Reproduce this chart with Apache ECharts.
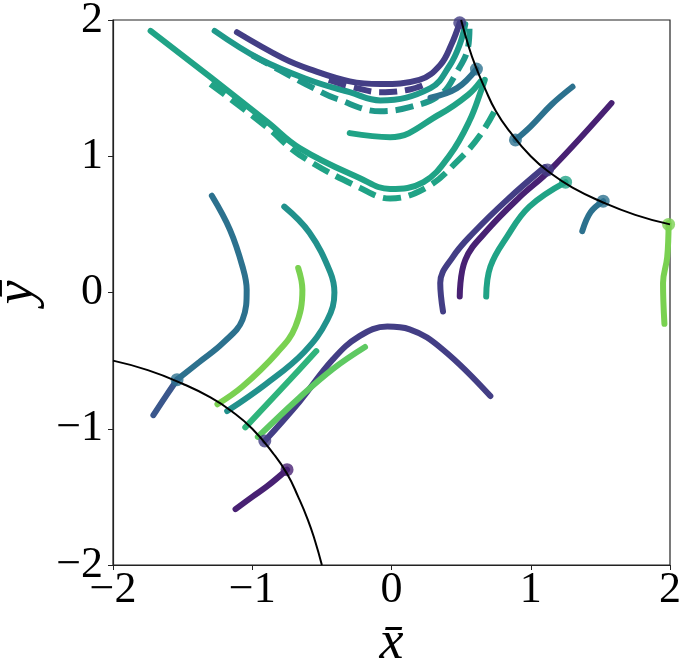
<!DOCTYPE html>
<html><head><meta charset="utf-8">
<script src="https://cdn.jsdelivr.net/npm/echarts@6/dist/echarts.min.js"></script>
<style>html,body{margin:0;padding:0;background:#fff}#c{width:686px;height:662px}</style>
</head><body><div id="c"></div>
<script>
// ---- data ----
const xTicks = [-2, -1, 0, 1, 2];
const yTicks = [-2, -1, 0, 1, 2];

const boundaryUpper = [[0.50,2.00],[0.55,1.82],[0.60,1.67],[0.67,1.50],[0.75,1.33],[0.85,1.18],[1.00,1.00],[1.15,0.87],[1.30,0.77],[1.50,0.67],[1.75,0.57],[2.00,0.50]];
const boundaryLower = [[-2.00,-0.50],[-1.75,-0.57],[-1.50,-0.67],[-1.30,-0.77],[-1.15,-0.87],[-1.00,-1.00],[-0.85,-1.18],[-0.75,-1.33],[-0.67,-1.50],[-0.60,-1.67],[-0.55,-1.82],[-0.50,-2.00]];

const curveA = [[-1.73,1.92],[-1.30,1.58],[-0.89,1.25],[-0.66,1.06],[-0.23,0.84],[-0.01,0.76],[0.23,0.81],[0.42,1.01],[0.56,1.26],[0.65,1.50],[0.67,1.56]];
const curveADash = [[-1.30,1.53],[-0.89,1.21],[-0.66,1.01],[-0.23,0.77],[-0.01,0.69],[0.25,0.77],[0.47,0.96],[0.64,1.16],[0.76,1.37]];
const curveB = [[-1.27,1.92],[-0.94,1.71],[-0.59,1.56],[-0.30,1.47],[-0.08,1.41],[0.28,1.50],[0.42,1.67],[0.49,1.82],[0.53,1.97]];
const curveBDash = [[-1.00,1.74],[-0.80,1.63],[-0.56,1.50],[-0.39,1.42],[-0.08,1.33],[0.13,1.36],[0.35,1.45],[0.47,1.62],[0.55,1.80],[0.56,1.94]];
const curveC = [[-1.11,1.91],[-0.78,1.72],[-0.59,1.64],[-0.30,1.55],[-0.08,1.53],[0.20,1.56],[0.35,1.67],[0.43,1.82],[0.49,1.98]];
const curveCDash = [[-0.45,1.56],[-0.25,1.50],[-0.08,1.47],[0.13,1.49],[0.27,1.54]];
const curveD = [[-0.30,1.17],[-0.01,1.14],[0.35,1.31],[0.55,1.45],[0.64,1.55]];
const curveE = [[0.28,1.43],[0.47,1.50],[0.61,1.64]];
const curveF = [[0.89,1.12],[1.00,1.22],[1.15,1.38],[1.30,1.51]];
const curveG = [[0.49,-0.03],[0.53,0.24],[0.69,0.46],[0.92,0.70],[1.14,0.90],[1.58,1.39]];
const curveH = [[0.37,-0.14],[0.35,0.07],[0.44,0.26],[0.59,0.44],[0.83,0.68],[1.10,0.92]];
const curveI = [[0.68,-0.03],[0.71,0.19],[0.83,0.41],[0.99,0.63],[1.25,0.81]];
const curveJ = [[1.37,0.45],[1.43,0.59],[1.52,0.67]];
const curveK = [[1.99,0.51],[1.98,0.26],[1.95,0.07],[1.96,-0.23]];
const curveL = [[-0.91,-1.09],[-0.66,-0.80],[-0.42,-0.49],[-0.23,-0.32],[-0.03,-0.25],[0.13,-0.27],[0.37,-0.42],[0.71,-0.76]];
const curveM = [[-0.19,-0.40],[-0.42,-0.56],[-0.66,-0.77],[-0.96,-1.06]];
const curveN = [[-0.54,-0.43],[-0.73,-0.64],[-1.05,-0.99]];
const curveO = [[-0.67,0.18],[-0.64,0.02],[-0.69,-0.25],[-0.82,-0.44],[-1.07,-0.69],[-1.25,-0.82]];
const curveP = [[-0.77,0.63],[-0.59,0.44],[-0.44,0.15],[-0.41,0.00],[-0.46,-0.20],[-0.63,-0.44],[-0.90,-0.67],[-1.18,-0.87]];
const curveQ = [[-1.29,0.71],[-1.16,0.46],[-1.07,0.19],[-1.04,0.02],[-1.07,-0.20],[-1.21,-0.37],[-1.38,-0.51],[-1.54,-0.64]];
const curveQTail = [[-1.54,-0.64],[-1.62,-0.76],[-1.71,-0.90]];
const curveR = [[-1.12,-1.59],[-1.00,-1.50],[-0.89,-1.42],[-0.75,-1.30]];

const dotPoints = [[0.49,1.98],[0.61,1.64],[0.89,1.12],[1.12,0.90],[1.25,0.81],[1.52,0.67],[1.99,0.50],[-1.54,-0.64],[-0.91,-1.09],[-0.75,-1.30]];

// ---- styles ----
const C_DP = '#482173', C_IN = '#433e85', C_BL = '#3a578c', C_TB = '#2c718e', C_TE = '#21918c',
      C_GT = '#20a386', C_GT2 = '#1f998a', C_GR = '#2fb47c', C_LG2 = '#5ec962', C_LG = '#7ad151';
const dotColors = [C_IN, C_TB, C_TB, C_IN, C_GT, C_TB, C_LG, C_TB, C_IN, C_DP];

const lineDefs = [
  {d: curveA, c: C_GT}, {d: curveADash, c: C_GT, dash: true},
  {d: curveB, c: C_GT2}, {d: curveBDash, c: C_GT2, dash: true},
  {d: curveC, c: C_IN}, {d: curveCDash, c: C_IN, dash: true},
  {d: curveD, c: C_GT}, {d: curveE, c: C_TB}, {d: curveF, c: C_TB},
  {d: curveG, c: C_DP}, {d: curveH, c: C_IN}, {d: curveI, c: C_GT},
  {d: curveJ, c: C_TB}, {d: curveK, c: C_LG},
  {d: curveL, c: C_IN}, {d: curveM, c: C_LG2}, {d: curveN, c: C_GR},
  {d: curveO, c: C_LG}, {d: curveP, c: C_TE}, {d: curveQ, c: C_TB}, {d: curveQTail, c: C_BL},
  {d: curveR, c: C_DP}
];

const series = lineDefs.map(s => ({
  type: 'line', data: s.d, smooth: 0.4, showSymbol: false, silent: true,
  lineStyle: {color: s.c, width: 6, type: s.dash ? [18, 8] : 'solid', cap: s.dash ? 'butt' : 'round'},
  z: 2
}));
series.push({
  type: 'scatter', data: dotPoints, symbolSize: 13, silent: true, z: 3,
  itemStyle: {color: p => dotColors[p.dataIndex]}
});
[boundaryUpper, boundaryLower].forEach(b => series.push({
  type: 'line', data: b, smooth: 0.5, showSymbol: false, silent: true, z: 4,
  lineStyle: {color: '#000', width: 2}
}));

const minus = v => String(v).replace('-', '\u2212');
const labelFont = {fontFamily: 'Liberation Serif', fontSize: 44, color: '#000'};

const chart = echarts.init(document.getElementById('c'), null, {renderer: 'canvas'});
chart.setOption({
  animation: false,
  grid: {left: 113, right: 16, top: 20, bottom: 97, containLabel: false, outerBoundsMode: 'none',
         show: true, borderColor: '#222', borderWidth: 1.2, backgroundColor: '#fff'},
  xAxis: {
    type: 'value', min: xTicks[0], max: xTicks[xTicks.length - 1], interval: 1,
    axisLine: {show: true, onZero: false, lineStyle: {color: '#222', width: 1.2}},
    axisTick: {show: true, inside: false, length: 5, lineStyle: {color: '#222'}},
    splitLine: {show: false},
    axisLabel: Object.assign({margin: 3, formatter: minus}, labelFont),
    name: 'x\u0304', nameLocation: 'middle', nameGap: 40,
    nameTextStyle: {fontFamily: 'Liberation Serif', fontStyle: 'italic', fontSize: 54, color: '#000'}
  },
  yAxis: {
    type: 'value', min: yTicks[0], max: yTicks[yTicks.length - 1], interval: 1,
    axisLine: {show: true, onZero: false, lineStyle: {color: '#222', width: 1.2}},
    axisTick: {show: true, inside: false, length: 5, lineStyle: {color: '#222'}},
    splitLine: {show: false},
    axisLabel: Object.assign({margin: 10, formatter: minus}, labelFont),
    name: 'y\u0304', nameLocation: 'middle', nameGap: 44, nameRotate: 90,
    nameTextStyle: {fontFamily: 'Liberation Serif', fontStyle: 'italic', fontSize: 54, color: '#000'}
  },
  series: series
});
</script></body></html>
